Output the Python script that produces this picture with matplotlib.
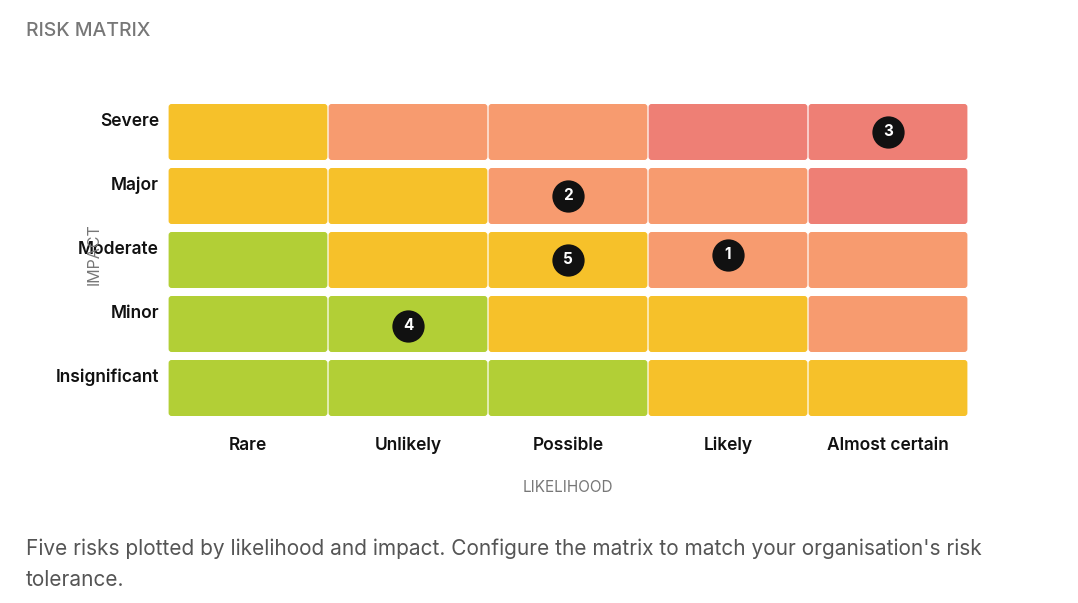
import matplotlib
matplotlib.use("Agg")
import matplotlib.pyplot as plt
from matplotlib.patches import FancyBboxPatch
from matplotlib.transforms import ScaledTranslation

plt.rcParams['font.family'] = ['Inter', 'DejaVu Sans']

likelihood = ["Rare", "Unlikely", "Possible", "Likely", "Almost certain"]
impact = ["Insignificant", "Minor", "Moderate", "Major", "Severe"]  # bottom -> top

# zone per cell: rows bottom->top, columns left->right
# G=low, Y=medium, O=high, R=extreme
zones = [
    ["G", "G", "G", "Y", "Y"],   # Insignificant
    ["G", "G", "Y", "Y", "O"],   # Minor
    ["G", "Y", "Y", "O", "O"],   # Moderate
    ["Y", "Y", "O", "O", "R"],   # Major
    ["Y", "O", "O", "R", "R"],   # Severe
]
zone_colors = {"G": "#B2CF36", "Y": "#F6C12A", "O": "#F79B6F", "R": "#EE7F75"}

risk_ids = ["1", "2", "3", "4", "5"]
risk_likelihood = [3.5, 2.5, 4.5, 1.5, 2.5]
risk_impact = [2.58, 3.5, 4.5, 1.47, 2.5]

W, H = 1078, 603
fig = plt.figure(figsize=(W / 100, H / 100), dpi=100)
left, right, top, bottom = 168, 968, 100, 420
ax = fig.add_axes([left / W, 1 - bottom / H, (right - left) / W, (bottom - top) / H])
ax.set_xlim(0, 5)
ax.set_ylim(0, 5)

colpx = (right - left) / 5
rowpx = (bottom - top) / 5
padx = 0.6 / colpx
pady = 4 / rowpx
r = 3 / colpx
for ri, row in enumerate(zones):
    for ci, z in enumerate(row):
        p = FancyBboxPatch((ci + padx, ri + pady), 1 - 2 * padx, 1 - 2 * pady,
                           boxstyle=f"round,pad=0,rounding_size={r}",
                           mutation_aspect=colpx / rowpx,
                           facecolor=zone_colors[z], edgecolor="none")
        ax.add_patch(p)

ax.scatter(risk_likelihood, risk_impact, s=540, color="#111111", zorder=3, linewidths=0)
for rid, x, y in zip(risk_ids, risk_likelihood, risk_impact):
    ax.text(x, y, rid, color="white", fontsize=11, fontweight="bold",
            ha="center", va="center", zorder=4)

ax.set_xticks([i + 0.5 for i in range(5)])
ax.set_xticklabels(likelihood, fontsize=12.5, fontweight="semibold", color="#111111")
ax.set_yticks([i + 0.5 for i in range(5)])
ax.set_yticklabels(impact, fontsize=12.5, fontweight="semibold", color="#111111")
ax.tick_params(axis="both", length=0)
ax.tick_params(axis="x", pad=12)
ax.tick_params(axis="y", pad=6.5)
off = ScaledTranslation(0, 13 / 100, fig.dpi_scale_trans)
for lab in ax.get_yticklabels():
    lab.set_transform(lab.get_transform() + off)
for s in ax.spines.values():
    s.set_visible(False)

ax.set_xlabel("LIKELIHOOD", fontsize=11, color="#777777")
ax.xaxis.set_label_coords(0.5, -(488 - bottom) / (bottom - top))
ax.xaxis.label.set_va("center")
ax.set_ylabel("IMPACT", fontsize=11.5, color="#777777")
ax.yaxis.set_label_coords(-(left - 94) / (right - left), (bottom - 254) / (bottom - top))
ax.yaxis.label.set_va("center")

fig.text(26 / W, 1 - 31 / H, "RISK MATRIX", fontsize=14, color="#777777",
         fontweight="medium", va="center", ha="left")
fig.text(26 / W, 1 - 549 / H, "Five risks plotted by likelihood and impact. Configure the matrix to match your organisation's risk",
         fontsize=15, color="#555555", va="center", ha="left")
fig.text(26 / W, 1 - 580 / H, "tolerance.",
         fontsize=15, color="#555555", va="center", ha="left")

fig.savefig("out.png", dpi=100)
